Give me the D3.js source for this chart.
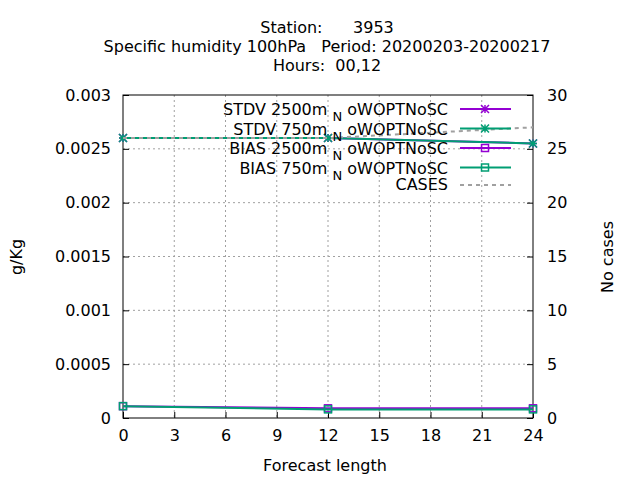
<!DOCTYPE html>
<html><head><meta charset="utf-8">
<script src="https://cdn.jsdelivr.net/npm/d3@7"></script>
<style>body{margin:0;background:#fff}text{font-family:"DejaVu Sans",sans-serif;font-size:16px}</style>
</head><body><svg id="c" width="640" height="480"></svg>
<script>
const hours = [0, 12, 24]
const stdv2500 = [0.0026, 0.0026, 0.00255]
const stdv750 = [0.0026, 0.0026, 0.00255]
const bias2500 = [0.00011, 0.00009, 0.00009]
const bias750 = [0.00011, 0.00008, 0.00008]
const cases = [26, 26, 27]
const xTicks = [0, 3, 6, 9, 12, 15, 18, 21, 24]
const yTicks = [0, 0.0005, 0.001, 0.0015, 0.002, 0.0025, 0.003]
const y2Ticks = [0, 5, 10, 15, 20, 25, 30]

const svg = d3.select('#c')
const L = 123, R = 533, T = 95, B = 418
const x = d3.scaleLinear().domain([0, 24]).range([L, R])
const y = d3.scaleLinear().domain([0, 0.003]).range([B, T])
const y2 = d3.scaleLinear().domain([0, 30]).range([B, T])
const purple = '#9400d3', green = '#009e73'

// grid
const grid = svg.append('g').attr('stroke', '#a0a0a0').attr('stroke-dasharray', '2,3').attr('stroke-width', 1)
xTicks.slice(1, -1).forEach(t => grid.append('line').attr('x1', x(t)).attr('x2', x(t)).attr('y1', T).attr('y2', B))
yTicks.slice(1, -1).forEach(t => grid.append('line').attr('x1', L).attr('x2', R).attr('y1', y(t)).attr('y2', y(t)))

svg.append('g').attr('transform', `translate(0,${B})`)
  .call(d3.axisBottom(x).tickValues(xTicks).tickSize(-6).tickPadding(12))
svg.append('g').attr('transform', `translate(${L},0)`)
  .call(d3.axisLeft(y).tickValues(yTicks).tickFormat(d => d === 0 ? '0' : String(+d.toFixed(4))).tickSize(-6).tickPadding(12))
svg.append('g').attr('transform', `translate(${R},0)`)
  .call(d3.axisRight(y2).tickValues(y2Ticks).tickSize(-6).tickPadding(14))
svg.selectAll('.domain').remove()
svg.selectAll('.tick line').attr('stroke', '#000')
svg.selectAll('.tick text').attr('font-size', 16).attr('font-family', 'DejaVu Sans')
svg.append('rect').attr('x', L).attr('y', T).attr('width', R - L).attr('height', B - T)
  .attr('fill', 'none').attr('stroke', '#000')

function star(g, cx, cy, c) {
  const s = 4
  g.append('path').attr('d', `M${cx-s},${cy-s}L${cx+s},${cy+s}M${cx-s},${cy+s}L${cx+s},${cy-s}M${cx},${cy-s}L${cx},${cy+s}M${cx-s},${cy}L${cx+s},${cy}`)
    .attr('stroke', c).attr('stroke-width', 1.5)
}
function square(g, cx, cy, c) {
  g.append('rect').attr('x', cx - 3.5).attr('y', cy - 3.5).attr('width', 7).attr('height', 7)
    .attr('fill', 'none').attr('stroke', c).attr('stroke-width', 1.5)
}

const series = [
  {name: 'STDV 2500m', v: stdv2500, c: purple, m: star},
  {name: 'STDV 750m', v: stdv750, c: green, m: star},
  {name: 'BIAS 2500m', v: bias2500, c: purple, m: square},
  {name: 'BIAS 750m', v: bias750, c: green, m: square}
]
const line = d3.line()
const plot = svg.append('g')
series.forEach(s => {
  plot.append('path').attr('d', line(hours.map((h, i) => [x(h), y(s.v[i])])))
    .attr('fill', 'none').attr('stroke', s.c).attr('stroke-width', 2)
  hours.forEach((h, i) => s.m(plot, x(h), y(s.v[i]), s.c))
})
plot.append('path').attr('d', line(hours.map((h, i) => [x(h), y2(cases[i])])))
  .attr('fill', 'none').attr('stroke', '#a0a0a0').attr('stroke-width', 2).attr('stroke-dasharray', '4,4')

// legend
const leg = svg.append('g')
series.forEach((s, i) => {
  const ly = 109 + i * 19.5
  const t = leg.append('text').attr('x', 448).attr('y', ly + 6).attr('text-anchor', 'end').attr('xml:space', 'preserve')
  t.append('tspan').text(s.name + ' ')
  t.append('tspan').attr('dy', 6).attr('font-size', 13).text('N')
  t.append('tspan').attr('dy', -6).text(' oWOPTNoSC')
  leg.append('line').attr('x1', 460).attr('x2', 511).attr('y1', ly).attr('y2', ly).attr('stroke', s.c).attr('stroke-width', 2)
  s.m(leg, 485, ly, s.c)
})
leg.append('text').attr('x', 448).attr('y', 190).attr('text-anchor', 'end').text('CASES')
leg.append('line').attr('x1', 460).attr('x2', 511).attr('y1', 185).attr('y2', 185)
  .attr('stroke', '#a0a0a0').attr('stroke-width', 2).attr('stroke-dasharray', '4,4')

// titles
const tl = ['Station:      3953', 'Specific humidity 100hPa   Period: 20200203-20200217', 'Hours:  00,12']
tl.forEach((t, i) => svg.append('text').attr('x', 327).attr('y', 33 + i * 19).attr('text-anchor', 'middle').attr('xml:space', 'preserve').style('white-space', 'pre').text(t))
svg.append('text').attr('x', 325).attr('y', 471).attr('text-anchor', 'middle').text('Forecast length')
svg.append('text').attr('transform', 'translate(22,257) rotate(-90)').attr('text-anchor', 'middle').text('g/Kg')
svg.append('text').attr('transform', 'translate(613,257) rotate(-90)').attr('text-anchor', 'middle').text('No cases')
</script></body></html>
